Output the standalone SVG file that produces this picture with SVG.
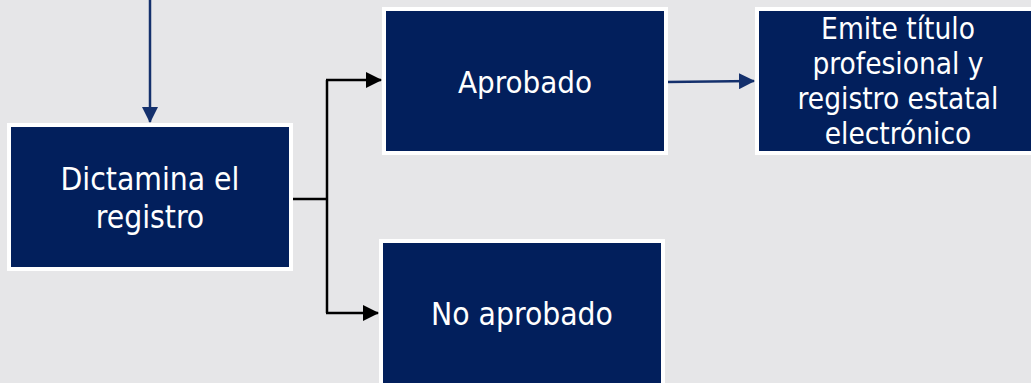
<svg xmlns="http://www.w3.org/2000/svg" width="1031" height="383" viewBox="0 0 1031 383">
<style>
.box{fill:#021f5c;stroke:#ffffff;stroke-width:4}
.t{fill:#ffffff;font-family:"DejaVu Sans Condensed","DejaVu Sans",sans-serif;font-stretch:condensed;text-anchor:middle}
.navy{stroke:#14306c;stroke-width:2.5;fill:none}
.blk{stroke:#000000;stroke-width:2.5;fill:none}
</style>
<defs>
<marker id="ahN" markerWidth="16" markerHeight="16" refX="15" refY="8" orient="auto" markerUnits="userSpaceOnUse"><path d="M0,0 L16,8 L0,16 Z" fill="#14306c"/></marker>
<marker id="ahB" markerWidth="16" markerHeight="16" refX="15" refY="8" orient="auto" markerUnits="userSpaceOnUse"><path d="M0,0 L16,8 L0,16 Z" fill="#000000"/></marker>
</defs>
<rect width="1031" height="383" fill="#e6e6e8"/>
<g id="connectors">
<path class="navy" d="M150,0 L150,122" marker-end="url(#ahN)"/>
<path class="navy" d="M666,82 L754,81" marker-end="url(#ahN)"/>
<path class="blk" d="M291,199 L327,199"/>
<path class="blk" d="M327,80 L327,313"/>
<path class="blk" d="M326,80 L381,80" marker-end="url(#ahB)"/>
<path class="blk" d="M326,313 L378,313" marker-end="url(#ahB)"/>
<path class="blk" d="M522,380 L522,383"/>
</g>
<g id="dictamina">
<rect class="box" x="9" y="125" width="282" height="144"/>
<text class="t" x="150" y="190" font-size="31.5">Dictamina el</text>
<text class="t" x="150" y="228" font-size="31.5">registro</text>
</g>
<g id="aprobado">
<rect class="box" x="384" y="9" width="282" height="144"/>
<text class="t" x="525" y="93" font-size="31">Aprobado</text>
</g>
<g id="emite">
<rect class="box" x="757" y="9" width="282" height="144"/>
<text class="t" x="898" y="39" font-size="29.5">Emite título</text>
<text class="t" x="898" y="74" font-size="29.5">profesional y</text>
<text class="t" x="898" y="109" font-size="29.5">registro estatal</text>
<text class="t" x="898" y="144" font-size="29.5">electrónico</text>
</g>
<g id="noaprobado">
<rect class="box" x="381" y="241" width="282" height="150"/>
<text class="t" x="522" y="325" font-size="31.5">No aprobado</text>
</g>
</svg>
